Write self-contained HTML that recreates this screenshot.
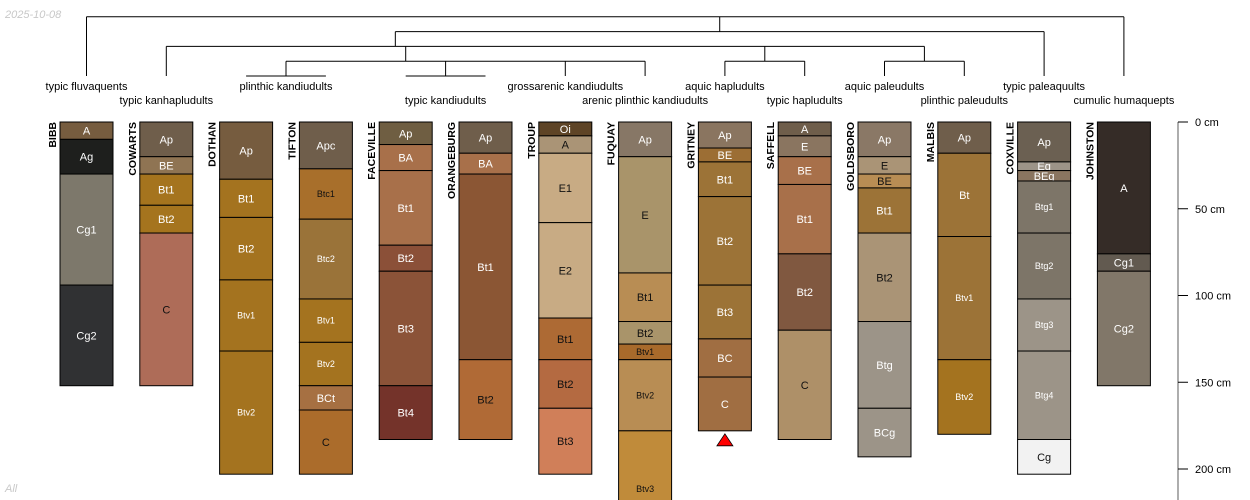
<!DOCTYPE html>
<html><head><meta charset="utf-8"><title>Soil profiles</title>
<style>
html,body{margin:0;padding:0;background:#fff;overflow:hidden;width:1250px;height:500px;}
svg{display:block;font-family:"Liberation Sans",sans-serif;overflow:hidden;}
</style></head>
<body>
<svg id="chart" width="1250" height="500" viewBox="0 0 1250 500" xmlns="http://www.w3.org/2000/svg">
<text x="5" y="18" font-size="11" font-style="italic" fill="#c8c8c8">2025-10-08</text>
<text x="5" y="492" font-size="11" font-style="italic" fill="#c8c8c8">All</text>
</svg>
<script>
const profileNames = ["BIBB","COWARTS","DOTHAN","TIFTON","FACEVILLE","ORANGEBURG","TROUP","FUQUAY","GRITNEY","SAFFELL","GOLDSBORO","MALBIS","COXVILLE","JOHNSTON"];
const taxaNames = ["typic fluvaquents","typic kanhapludults","plinthic kandiudults","typic kandiudults","grossarenic kandiudults","arenic plinthic kandiudults","aquic hapludults","typic hapludults","aquic paleudults","plinthic paleudults","typic paleaquults","cumulic humaquepts"];
const taxaFirst = [0,1,2,4,6,7,8,9,10,11,12,13];
const taxaLast  = [0,1,3,5,6,7,8,9,10,11,12,13];
const horizonNames = [
 ["A","Ag","Cg1","Cg2"],
 ["Ap","BE","Bt1","Bt2","C"],
 ["Ap","Bt1","Bt2","Btv1","Btv2"],
 ["Apc","Btc1","Btc2","Btv1","Btv2","BCt","C"],
 ["Ap","BA","Bt1","Bt2","Bt3","Bt4"],
 ["Ap","BA","Bt1","Bt2"],
 ["Oi","A","E1","E2","Bt1","Bt2","Bt3"],
 ["Ap","E","Bt1","Bt2","Btv1","Btv2","Btv3"],
 ["Ap","BE","Bt1","Bt2","Bt3","BC","C"],
 ["A","E","BE","Bt1","Bt2","C"],
 ["Ap","E","BE","Bt1","Bt2","Btg","BCg"],
 ["Ap","Bt","Btv1","Btv2"],
 ["Ap","Eg","BEg","Btg1","Btg2","Btg3","Btg4","Cg"],
 ["A","Cg1","Cg2"]
];
const horizonBottoms = [
 [10,30,94,152],
 [20,30,48,64,152],
 [33,55,91,132,203],
 [27,56,102,127,152,166,203],
 [13,28,71,86,152,183],
 [18,30,137,183],
 [8,18,58,113,137,165,203],
 [20,87,115,128,137,178,245],
 [15,23,43,94,125,147,178],
 [8,20,36,76,120,183],
 [20,30,38,64,115,165,193],
 [18,66,137,180],
 [23,28,34,64,102,132,183,203],
 [76,86,152]
];
const horizonColors = [
 ["#765c3f","#1e1f1d","#7d786b","#303133"],
 ["#6f5e4b","#8f7453","#a5741e","#a5741e","#ae6c58"],
 ["#765c3f","#a4731f","#a4731f","#a4731f","#a4731f"],
 ["#6f5e4b","#a86f2b","#9a7339","#a4731f","#a4731f","#a67042","#ab6c2b"],
 ["#6f5e42","#a8704a","#a8704a","#8b5038","#8b5338","#74332a"],
 ["#6f5e4b","#a8704a","#8b5634","#b06a36"],
 ["#5e4426","#aa9476","#c8ab84","#c8ab84","#ad6a34","#b46a41","#d07f59"],
 ["#877766","#a9946a","#b88d54","#a9946a","#a86a2b","#b88d54","#c08b3a"],
 ["#8a7560","#9c6e34","#9c7337","#9c7337","#9c7337","#a06e42","#a06e42"],
 ["#6f5e4b","#8a7560","#a8704a","#a8704a","#805840","#ae9068"],
 ["#8a7866","#aa9476","#b88d54","#9c7337","#aa9476","#9c9488","#9c9488"],
 ["#6f5e4b","#9c7337","#9c7337","#a4731f"],
 ["#6b6052","#9c9488","#8a7560","#7d7568","#7d7568","#9c9488","#9c9488","#f2f2f2"],
 ["#352c27","#625a50","#817769"]
];
const darkText = [
 [0,0,0,0],[0,0,0,0,1],[0,0,0,0,0],[0,1,0,0,0,0,1],[0,0,0,0,0,0],[0,0,0,1],
 [0,1,1,1,1,1,1],[0,1,1,1,1,1,1],[0,0,0,0,0,0,0],[0,0,0,0,0,1],[0,1,1,0,1,0,0],
 [0,0,0,0],[0,0,0,0,0,0,0,1],[0,0,0]
];
const depthTicks = [0,50,100,150,200];
const depthTickLabels = ["0 cm","50 cm","100 cm","150 cm","200 cm"];
const dendroChildren = [
 [2,3,4,5],
 [6,7],
 [8,9],
 [1,12,13,14],
 [15,10],
 [0,16,11]
];
const dendroHeights = [1,1,1,2,3,4];
const dendroAnchor = [4.0,null,null,3.87,null,null];

const NS="http://www.w3.org/2000/svg";
const svg=document.getElementById('chart');
const x0=86.5, dx=79.8, colW=53, yTop=122, pxPerCm=1.735;
function xPos(i){return x0+i*dx;}
function yPos(d){return yTop+d*pxPerCm;}
function dendY(h){return 76-h*14.8;}
function mk(tag,attrs){const e=document.createElementNS(NS,tag);for(const k in attrs)e.setAttribute(k,attrs[k]);svg.appendChild(e);return e;}

profileNames.forEach((nm,i)=>{
  const cx=xPos(i), left=cx-colW/2;
  let top=0;
  horizonBottoms[i].forEach((b,j)=>{
    const yb=Math.min(yPos(b),501);
    const r=mk('rect',{x:left,y:yPos(top),width:colW,height:yb-yPos(top),fill:horizonColors[i][j],stroke:'#000','stroke-width':1});
    
    
    const hn=horizonNames[i][j];
    const t=mk('text',{x:cx,y:(yPos(top)+yPos(b))/2+(hn.length>=4?3:4),'text-anchor':'middle','font-size':hn.length>=4?9:11,fill:darkText[i][j]?'#111':'#fff'});
    t.textContent=hn;
    
    
    top=b;
  });
  const lb=mk('text',{x:0,y:0,'font-size':10.5,'font-weight':'bold','text-anchor':'end',transform:'translate('+(left-4)+','+yTop+') rotate(-90)',fill:'#000'});
  lb.textContent=nm;
  
  
});

const nodeX=[], nodeY=[];
taxaNames.forEach((tn,k)=>{
  const xa=xPos(taxaFirst[k]), xb=xPos(taxaLast[k]);
  const cx=(xa+xb)/2;
  if(taxaLast[k]>taxaFirst[k]){
    const bar=mk('line',{x1:xa,y1:76,x2:xb,y2:76,stroke:'#000','stroke-width':1});
    
    
  }
  nodeX.push(cx); nodeY.push(76);
  const tx=mk('text',{x:cx,y:k%2===0?90:104,'text-anchor':'middle','font-size':11,fill:'#000'});
  tx.textContent=tn;
  
  
});

dendroChildren.forEach((ch,n)=>{
  const y=dendY(dendroHeights[n]);
  const xs=ch.map(c=>nodeX[c]);
  const mn=Math.min(...xs), mx=Math.max(...xs);
  const h=mk('line',{x1:mn,y1:y,x2:mx,y2:y,stroke:'#000','stroke-width':1});
  
  
  ch.forEach(c=>{
    const v=mk('line',{x1:nodeX[c],y1:y,x2:nodeX[c],y2:nodeY[c],stroke:'#000','stroke-width':1});
    
    
  });
  nodeX.push(dendroAnchor[n]!==null?xPos(dendroAnchor[n]):(mn+mx)/2);
  nodeY.push(y);
});

const gi=profileNames.indexOf('GRITNEY');
const gb=yPos(horizonBottoms[gi][horizonBottoms[gi].length-1]);
const tri=mk('polygon',{points:(xPos(gi)-8)+','+(gb+15)+' '+(xPos(gi)+8)+','+(gb+15)+' '+xPos(gi)+','+(gb+3),fill:'#f00',stroke:'#000','stroke-width':0.8});



const ax=1178;
const al=mk('line',{x1:ax,y1:yTop,x2:ax,y2:500,stroke:'#777','stroke-width':1.2});


depthTicks.forEach((d,k)=>{
  const tl=mk('line',{x1:ax,y1:yPos(d),x2:ax+10,y2:yPos(d),stroke:'#000','stroke-width':1});
  
  
  const t=mk('text',{x:ax+17,y:yPos(d)+4,'font-size':11,fill:'#000'});
  t.textContent=depthTickLabels[k];
  
  
});
</script>
</body></html>
